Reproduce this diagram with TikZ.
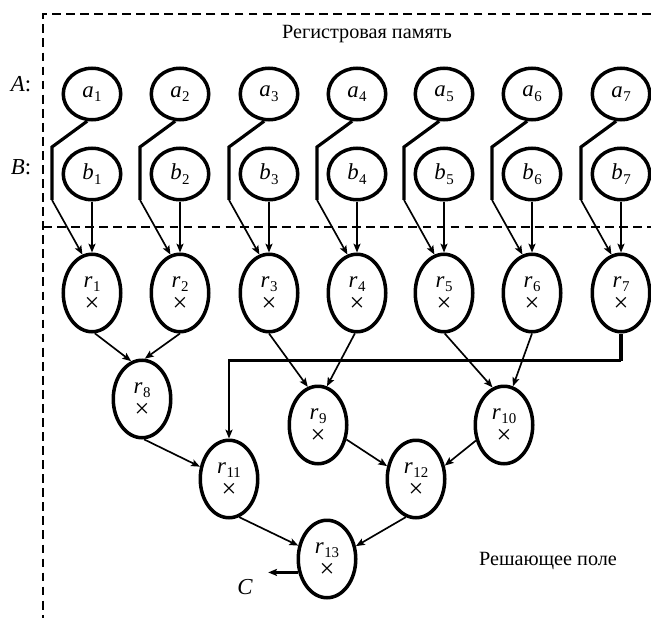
\documentclass[tikz,border=0pt]{standalone}
\usepackage{fontspec}
\setmainfont{Liberation Serif}
\usetikzlibrary{arrows.meta,calc,shapes.geometric}
% italic letter with an upright, lowered index
\newcommand\ix[2]{\textit{#1}\kern0.3pt\raisebox{-0.45ex}{\fontsize{8.5}{8.5}\selectfont #2}}

\begin{document}
\begin{tikzpicture}[x=0.02cm,y=-0.02cm,
  reg/.style={draw, line width=2pt, ellipse, minimum width=1.15cm,
    minimum height=1.03cm, inner sep=0pt, font=\fontsize{13}{13}\selectfont},
  op/.style={draw, line width=2pt, ellipse, minimum width=1.15cm,
    minimum height=1.55cm, inner sep=0pt},
  txt/.style={font=\fontsize{13}{13}\selectfont, inner sep=0pt},
  mul/.style={font=\fontsize{15}{15}\selectfont, inner sep=0pt},
  frame/.style={line width=1.1pt, dash pattern=on 5pt off 3pt},
  tip/.style={-{Stealth[length=5pt,width=4pt,inset=1pt]}},
  arr/.style={line width=0.95pt, tip},
  feed/.style={line width=1.8pt, line join=miter},
]
\useasboundingbox (0,0) rectangle (651,621);

% dashed frame and the border between memory and field
\draw[frame] (651,14) -- (43,14) -- (43,618);
\draw[frame] (43,227) -- (651,227);

\node[txt, font=\fontsize{11.5}{11.5}\selectfont, anchor=base] (title) at (367,39) {Регистровая память};
\node[txt, font=\fontsize{11.5}{11.5}\selectfont, anchor=base] (field) at (548,565) {Решающее поле};
\node[txt, anchor=base] (lA) at (21,92) {\textit{A}:};
\node[txt, anchor=base] (lB) at (21,175) {\textit{B}:};

% registers and the first row of multipliers
\foreach \i/\x in {1/92,2/180,3/269,4/357,5/444,6/532,7/621} {
  \node[reg] (a\i) at (\x,94) {\ix{a}{\i}};
  \node[reg] (b\i) at (\x,174) {\ix{b}{\i}};
  \node[op] (r\i) at (\x,293) {};
  \coordinate (k\i) at ($(a\i)+(-40,53)$);
  \coordinate (m\i) at ($(a\i)+(-40,106)$);
  \draw[feed] (a\i.-100) -- (k\i) -- (m\i);
  \draw[arr] (m\i) -- (r\i.104);
  \draw[arr] (b\i.south) -- (r\i.north);
}

% adder tree
\node[op] (r8)  at (142,399) {};
\node[op] (r9)  at (318,425) {};
\node[op] (r10) at (504,425) {};
\node[op] (r11) at (229,479) {};
\node[op] (r12) at (416,479) {};
\node[op] (r13) at (327,559) {};

\foreach \i in {1,...,13} {
  \node[txt, anchor=base] (rt\i) at ($(r\i)+(0,-6)$) {\ix{r}{\i}};
  \node[mul] (rx\i) at ($(r\i)+(0,11)$) {×};
}

\draw[arr] (r1.-86) -- (r8.106);
\draw[arr] (r2.-90) -- (r8.86);
\draw[arr] (r3.-90) -- (r9.105);
\draw[arr] (r4.-93) -- (r9.77);
\draw[arr] (r5.-89) -- (r10.107);
\draw[arr] (r6.-90) -- (r10.77);

\coordinate (t7) at ($(r7.south)+(0,27)$);
\draw[line width=2pt] (r7.south) -- (t7);
\draw[line width=1.3pt, tip] (t7) -| (r11.north);

\draw[arr] (r8.-87) -- (r11.157);
\draw[arr] (r9.-27) -- (r12.156);
\draw[arr] (r10.209) -- (r12.25);
\draw[arr] (r11.-75) -- (r13.155);
\draw[arr] (r12.-105) -- (r13.24);

\coordinate (cout) at ($(r13.205)+(-30,0)$);
\draw[line width=1.6pt, tip] (r13.205) -- (cout);
\node[txt] (C) at (245,587) {\textit{C}};
\end{tikzpicture}
\end{document}
